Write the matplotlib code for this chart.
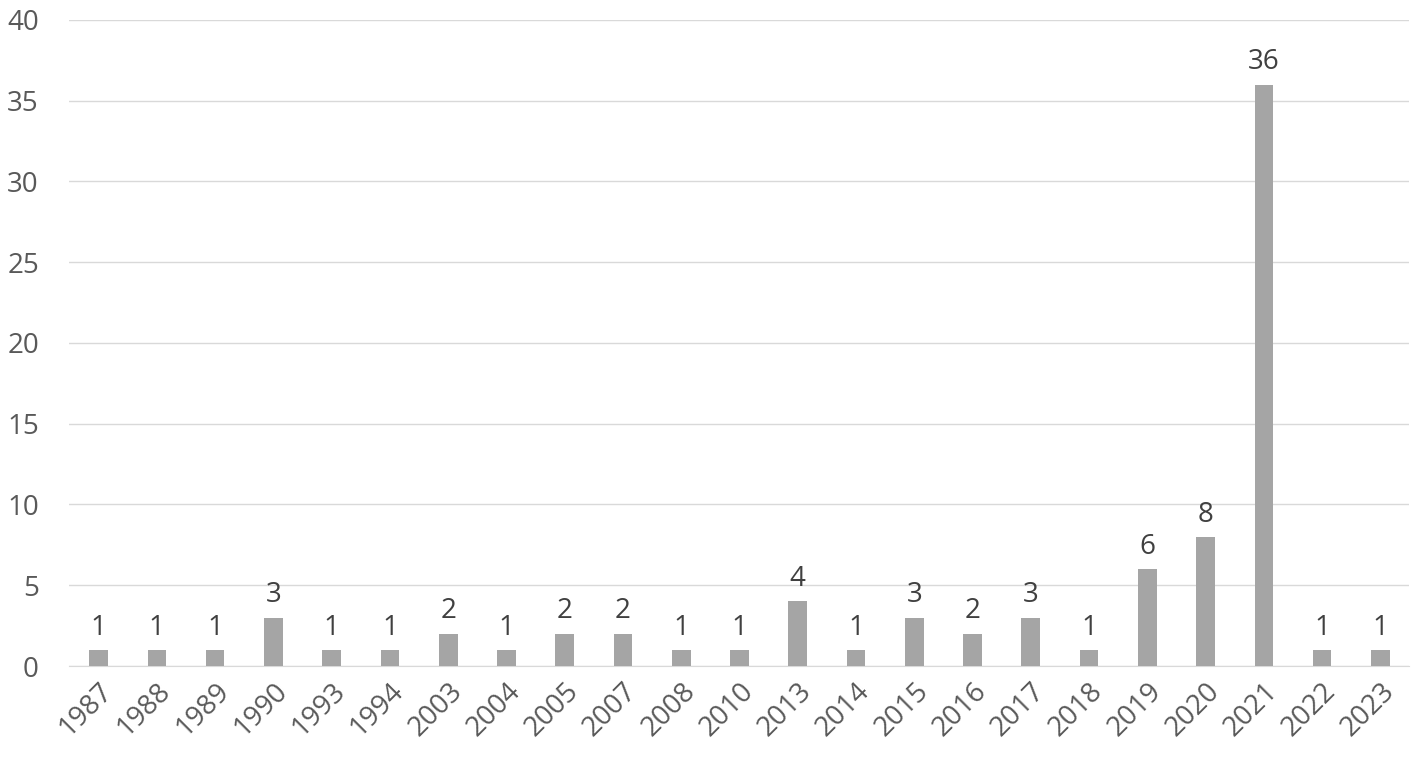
import numpy as np
import matplotlib.pyplot as plt

years = ["1987", "1988", "1989", "1990", "1993", "1994", "2003", "2004", "2005", "2007",
         "2008", "2010", "2013", "2014", "2015", "2016", "2017", "2018", "2019", "2020",
         "2021", "2022", "2023"]
counts = [1, 1, 1, 3, 1, 1, 2, 1, 2, 2, 1, 1, 4, 1, 3, 2, 3, 1, 6, 8, 36, 1, 1]

plt.rcParams['font.family'] = ['Open Sans', 'DejaVu Sans']

fig = plt.figure(figsize=(14.18, 7.65), dpi=100)
ax = fig.add_axes([0.049, 0.1294, 0.945, 0.8446])

x = np.arange(len(years))
bars = ax.bar(x, counts, width=0.32, color='#A5A5A5', zorder=3)

# etiquettes au-dessus des barres
for xi, c in zip(x, counts):
    ax.annotate(str(c), (xi, c), xytext=(0, 11), textcoords='offset points',
                ha='center', va='baseline', fontsize=20, color='#404040')

ax.set_ylim(0, 40)
ax.set_xlim(-0.5, len(years) - 0.5)
ax.set_yticks(range(0, 41, 5))
ax.set_xticks(x)
ax.set_xticklabels(years, rotation=45, ha='right', rotation_mode='anchor')
ax.tick_params(axis='both', length=0, labelsize=20, labelcolor='#595959')
ax.tick_params(axis='y', pad=22)
ax.tick_params(axis='x', pad=8)
ax.grid(axis='y', color='#D9D9D9', linewidth=1, zorder=0)
for s in ['top', 'right', 'left']:
    ax.spines[s].set_visible(False)
ax.spines['bottom'].set_color('#D9D9D9')

fig.savefig('out.png', dpi=100)
